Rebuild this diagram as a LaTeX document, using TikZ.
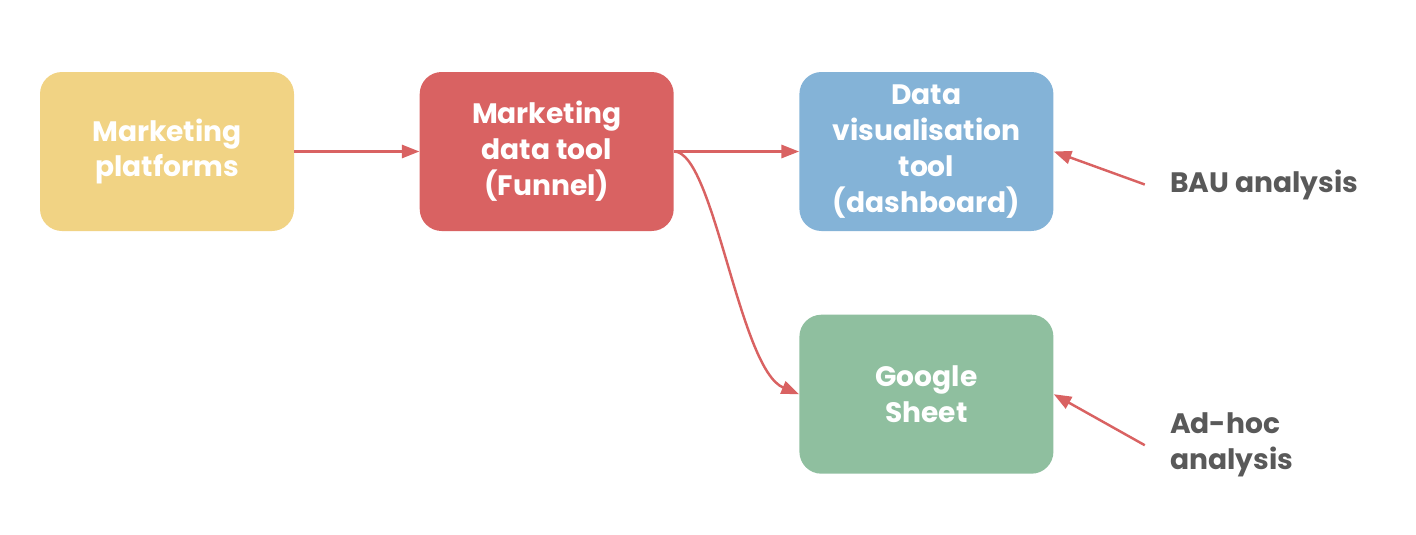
\documentclass[tikz,border=0pt]{standalone}
\usepackage{fontspec}
\setmainfont{Poppins}
\usepackage{tikz}
\usetikzlibrary{positioning,arrows.meta}
\usepackage{xcolor}
\definecolor{platyellow}{HTML}{F1D384}
\definecolor{toolred}{HTML}{D96262}
\definecolor{vizblue}{HTML}{84B3D7}
\definecolor{sheetgreen}{HTML}{8FBF9F}
\definecolor{notegrey}{HTML}{595959}

\tikzset{
  stage/.style={rounded corners=0.44cm, minimum width=5.08cm, minimum height=3.18cm,
    align=center, text=white, font=\fontsize{16}{20.4}\selectfont\bfseries},
  note/.style={align=left, text=notegrey, inner xsep=0.5cm, inner ysep=0pt,
    font=\fontsize{16}{20.4}\selectfont\bfseries},
  flow/.style={draw=toolred, line width=1.4pt, -{Triangle[length=10pt,width=7.5pt]}}
}

\begin{document}
\begin{tikzpicture}
    \useasboundingbox (0,0) rectangle (28.32,-10.68);

    \node[stage, fill=platyellow] (platforms) at (3.34,-3.03) {Marketing\\platforms};
    \node[stage, fill=toolred, right=2.50cm of platforms] (funnel) {Marketing\\data tool\\(Funnel)};
    \node[stage, fill=vizblue, right=2.50cm of funnel] (dashboard) {Data\\visualisation\\tool\\(dashboard)};
    \node[stage, fill=sheetgreen, below=1.66cm of dashboard] (sheet) {Google\\Sheet};

    \node[note, anchor=west] (bau) at ([xshift=1.82cm,yshift=-0.66cm]dashboard.east) {BAU analysis};
    \node[note, anchor=west] (adhoc) at ([xshift=1.82cm,yshift=-1.02cm]sheet.east) {Ad-hoc\\analysis};

    \draw[flow] (platforms) -- (funnel);
    \draw[flow] (funnel.east) -- (dashboard.west);
    \draw[flow] (funnel.east) .. controls +(0.8,0) and +(-1.2,0.5) .. (sheet.west);

    \draw[flow] (bau.west) -- (dashboard.east);
    \draw[flow] (adhoc.west) -- (sheet.east);
\end{tikzpicture}
\end{document}
